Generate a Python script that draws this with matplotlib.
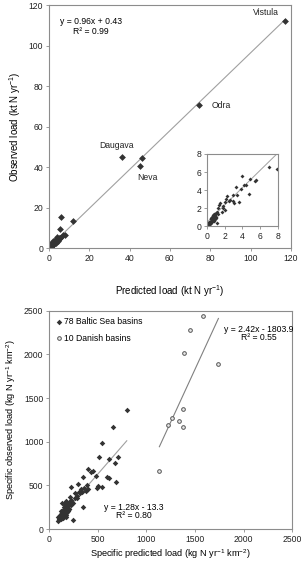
import numpy as np
import matplotlib
matplotlib.use('Agg')
import matplotlib.pyplot as plt

plt.rcParams['font.family'] = ['Liberation Sans', 'DejaVu Sans']
plt.rcParams['mathtext.fontset'] = 'custom'
plt.rcParams['mathtext.rm'] = 'Liberation Sans'
plt.rcParams['mathtext.it'] = 'Liberation Sans:italic'

# total loads, kt N / yr (78 Baltic basins)
pred_total = [117.0, 74.4, 36.2, 45.3, 46.3, 12.0, 6.2, 5.5,
              7.0, 7.9, 3.9, 5.55, 5.4, 4.8, 3.3, 4.45, 4.2, 3.8, 4.7, 3.4, 2.95, 2.2, 2.15,
              2.65, 2.9, 2.5, 3.0, 3.6, 2.0, 1.5, 1.4, 1.75, 1.8, 1.25, 1.7, 2.0, 1.15, 0.9, 1.15,
              0.95, 0.8, 0.7, 0.85, 0.6, 0.75, 0.5, 0.65, 0.55, 0.4, 0.45, 0.35, 0.3, 0.25, 0.2,
              0.15, 0.1, 0.05, 0.3, 0.2, 0.5, 0.6, 0.4, 0.7, 0.8, 1.0, 0.9, 0.12, 0.08, 0.35,
              0.45, 0.25, 0.55, 1.05, 0.65, 1.2, 0.75, 1.0, 0.15]
obs_total = [112.3, 70.5, 44.8, 40.5, 44.4, 13.4, 15.6, 9.7,
             6.6, 6.3, 5.6, 5.1, 4.95, 5.2, 4.3, 4.6, 4.55, 4.15, 3.6, 3.4, 3.5, 3.3, 3.05,
             2.9, 2.8, 2.8, 2.6, 2.7, 2.7, 2.6, 2.3, 2.2, 2.05, 2.05, 1.6, 1.75, 1.6, 1.4, 0.35,
             1.25, 1.3, 1.2, 1.1, 1.0, 0.95, 0.85, 0.8, 0.7, 0.6, 0.75, 0.5, 0.4, 0.35, 0.3,
             0.2, 0.15, 0.08, 0.25, 0.2, 0.45, 0.55, 0.35, 0.6, 0.7, 0.9, 0.8, 0.05, 0.12, 0.3,
             0.5, 0.45, 0.9, 1.05, 1.15, 1.35, 0.6, 1.5, 0.1]
river_names = ['Vistula', 'Odra', 'Daugava', 'Neva']
river_label_pos = [(101, 116.5), (80.5, 70.5), (25, 50.5), (44, 35)]
fit_total = (0.96, 0.43)

# specific loads, kg N / yr / km2
baltic_pred = [799, 662, 549, 518, 710, 617, 676, 405, 456, 432, 487, 347, 593, 617, 693,
               295, 388, 507, 491, 542, 223, 398, 343, 377, 268, 316, 216, 285, 130, 199,
               347, 182, 165, 206, 147, 182, 130, 157, 113, 137, 96, 171, 123, 250, 96,
               110, 120, 135, 145, 155, 165, 175, 185, 195, 205, 215, 225, 140, 150, 160,
               170, 180, 190, 128, 118, 105, 140, 160, 175, 195, 210, 230, 250, 270, 290,
               310, 330, 360]
baltic_obs = [1365, 1174, 983, 826, 826, 806, 753, 684, 668, 654, 608, 600, 593, 581, 539,
              516, 508, 493, 474, 485, 485, 455, 428, 436, 409, 409, 364, 356, 302, 295,
              249, 264, 237, 226, 210, 198, 180, 172, 161, 141, 134, 134, 111, 103, 95,
              150, 175, 190, 160, 200, 215, 180, 240, 260, 300, 310, 330, 220, 250, 280,
              300, 320, 290, 205, 130, 120, 125, 150, 165, 210, 235, 270, 300, 350, 380,
              420, 460, 470]
danish_pred = [1582, 1448, 1389, 1742, 1382, 1262, 1341, 1224, 1382, 1135]
danish_obs = [2435, 2283, 2015, 1893, 1376, 1277, 1235, 1193, 1166, 665]
fit_baltic = (1.28, -13.3)
fit_baltic_range = (80, 800)
fit_danish = (2.42, -1803.9)

grey = '#8c8c8c'
dark = '#333333'


def style_axes(ax, fs=6.2):
    for s in ax.spines.values():
        s.set_color(grey)
        s.set_linewidth(0.8)
    ax.tick_params(colors=grey, labelcolor='#222222', labelsize=fs, length=2, width=0.6, pad=2)


fig = plt.figure(figsize=(3.04, 5.64), dpi=100)

# top panel
ax1 = fig.add_axes([0.161, 0.560, 0.796, 0.431])
xs = np.array([0, max(pred_total)])
ax1.plot(xs, fit_total[0] * xs + fit_total[1], color='#a0a0a0', lw=0.8, zorder=1)
ax1.scatter(pred_total, obs_total, marker='D', s=12, color=dark, linewidths=0, zorder=2)
ax1.set_xlim(0, 120)
ax1.set_ylim(0, 120)
ax1.set_xticks(range(0, 121, 20))
ax1.set_yticks(range(0, 121, 20))
style_axes(ax1)
ax1.set_xlabel(r'Predicted load (kt N yr$^{-1}$)', fontsize=7, labelpad=15)
ax1.set_ylabel(r'Observed load (kt N yr$^{-1}$)', fontsize=7, labelpad=4)
ax1.text(21, 112, 'y = 0.96x + 0.43', fontsize=6.2, ha='center', va='center')
ax1.text(21, 107, 'R² = 0.99', fontsize=6.2, ha='center', va='center')
for name, (lx, ly) in zip(river_names, river_label_pos):
    ax1.text(lx, ly, name, fontsize=6.2, ha='left', va='center', color='#222222')

# inset
ax2 = fig.add_axes([0.681, 0.599, 0.233, 0.128])
xs = np.array([0, 8])
ax2.plot(xs, fit_total[0] * xs + fit_total[1], color='#a0a0a0', lw=0.7, zorder=1)
ax2.scatter(pred_total, obs_total, marker='D', s=4, color=dark, linewidths=0, zorder=2)
ax2.set_xlim(0, 8)
ax2.set_ylim(0, 8)
ax2.set_xticks(range(0, 9, 2))
ax2.set_yticks(range(0, 9, 2))
style_axes(ax2)

# bottom panel
ax3 = fig.add_axes([0.161, 0.062, 0.800, 0.387])
xs = np.array(fit_baltic_range)
ax3.plot(xs, fit_baltic[0] * xs + fit_baltic[1], color='#a0a0a0', lw=0.8, zorder=1)
xs = np.array([min(danish_pred), max(danish_pred)])
ax3.plot(xs, fit_danish[0] * xs + fit_danish[1], color='#808080', lw=0.8, zorder=1)
ax3.scatter(baltic_pred, baltic_obs, marker='D', s=8, color=dark, linewidths=0, zorder=2,
            label='78 Baltic Sea basins')
ax3.scatter(danish_pred, danish_obs, marker='o', s=7, facecolors='#e8e8e8', edgecolors='#555555',
            linewidths=0.7, zorder=2, label='10 Danish basins')
ax3.set_xlim(0, 2500)
ax3.set_ylim(0, 2500)
ax3.set_xticks(range(0, 2501, 500))
ax3.set_yticks(range(0, 2501, 500))
style_axes(ax3)
ax3.set_xlabel(r'Specific predicted load (kg N yr$^{-1}$ km$^{-2}$)', fontsize=6.6, labelpad=3)
ax3.set_ylabel(r'Specific observed load (kg N yr$^{-1}$ km$^{-2}$)', fontsize=6.6, labelpad=4)
ax3.legend(loc='upper left', frameon=False, fontsize=6.2, handletextpad=0.1,
           handlelength=1.0, borderaxespad=0.3, labelspacing=0.9)
ax3.text(2160, 2290, 'y = 2.42x - 1803.9', fontsize=6.2, ha='center', va='center')
ax3.text(2160, 2190, 'R² = 0.55', fontsize=6.2, ha='center', va='center')
ax3.text(870, 250, 'y = 1.28x - 13.3', fontsize=6.2, ha='center', va='center')
ax3.text(870, 155, 'R² = 0.80', fontsize=6.2, ha='center', va='center')

fig.savefig('out.png', dpi=100)
